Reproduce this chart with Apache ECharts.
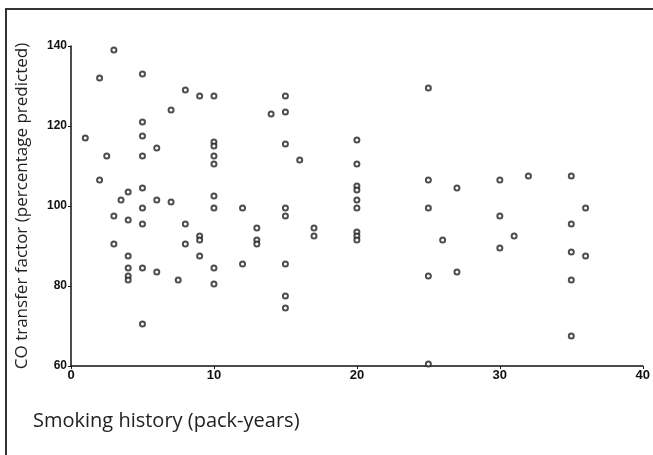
<!DOCTYPE html>
<html>
<head>
<meta charset="utf-8">
<script src="https://cdn.jsdelivr.net/npm/echarts@6/dist/echarts.min.js"></script>
<style>
  html, body { margin: 0; padding: 0; background: #fff; }
  #chart { width: 653px; height: 455px; }
</style>
</head>
<body>
<div id="chart"></div>
<script>
// pack-years of each subject and its CO transfer factor (% predicted)
var packYears = [
  1,
  2, 2,
  2.5,
  3, 3, 3,
  3.5,
  4, 4, 4, 4, 4, 4,
  5, 5, 5, 5, 5, 5, 5, 5, 5,
  6, 6, 6,
  7, 7,
  7.5,
  8, 8, 8,
  9, 9, 9, 9,
  10, 10, 10, 10, 10, 10, 10, 10, 10,
  12, 12,
  13, 13, 13,
  14,
  15, 15, 15, 15, 15, 15, 15, 15,
  16,
  17, 17,
  20, 20, 20, 20, 20, 20, 20, 20, 20,
  25, 25, 25, 25, 25,
  26,
  27, 27,
  30, 30, 30,
  31,
  32,
  35, 35, 35, 35, 35,
  36, 36
];
var coTransfer = [
  117,
  132, 106.5,
  112.5,
  139, 97.5, 90.5,
  101.5,
  103.5, 96.5, 87.5, 84.5, 82.5, 81.5,
  133, 121, 117.5, 112.5, 104.5, 99.5, 95.5, 84.5, 70.5,
  114.5, 101.5, 83.5,
  124, 101,
  81.5,
  129, 95.5, 90.5,
  127.5, 92.5, 91.5, 87.5,
  127.5, 116, 115, 112.5, 110.5, 102.5, 99.5, 84.5, 80.5,
  99.5, 85.5,
  94.5, 91.5, 90.5,
  123,
  127.5, 123.5, 115.5, 99.5, 97.5, 85.5, 77.5, 74.5,
  111.5,
  94.5, 92.5,
  116.5, 110.5, 105, 104, 101.5, 99.5, 93.5, 92.5, 91.5,
  129.5, 106.5, 99.5, 82.5, 60.5,
  91.5,
  104.5, 83.5,
  106.5, 97.5, 89.5,
  92.5,
  107.5,
  107.5, 95.5, 88.5, 81.5, 67.5,
  99.5, 87.5
];
var xTicks = [0, 10, 20, 30, 40];
var yTicks = [60, 80, 100, 120, 140];

var points = [];
for (var i = 0; i < packYears.length; i++) {
  points.push([packYears[i], coTransfer[i]]);
}

var chart = echarts.init(document.getElementById('chart'));
chart.setOption({
  animation: false,
  backgroundColor: '#fff',
  grid: { left: 71, top: 46, right: 5, bottom: 89 },
  xAxis: {
    type: 'value',
    min: xTicks[0],
    max: xTicks[xTicks.length - 1],
    interval: 10,
    splitLine: { show: false },
    axisLine: { show: true, lineStyle: { color: '#111', width: 1.5 } },
    axisTick: { show: true, length: 3, lineStyle: { color: '#111' } },
    axisLabel: { color: '#111', fontFamily: 'Liberation Sans', fontWeight: 'bold', fontSize: 13, margin: 3 }
  },
  yAxis: {
    type: 'value',
    min: yTicks[0],
    max: yTicks[yTicks.length - 1],
    interval: 20,
    name: 'CO transfer factor (percentage predicted)',
    nameLocation: 'middle',
    nameRotate: 90,
    nameGap: 40,
    nameTextStyle: { color: '#222', fontFamily: 'Open Sans', fontSize: 17 },
    splitLine: { show: false },
    axisLine: { show: true, lineStyle: { color: '#111', width: 1.5 } },
    axisTick: { show: true, length: 3, lineStyle: { color: '#111' } },
    axisLabel: { color: '#111', fontFamily: 'Liberation Sans', fontWeight: 'bold', fontSize: 12, margin: 4 }
  },
  graphic: [
    {
      type: 'rect',
      shape: { x: 6, y: 9, width: 700, height: 500 },
      style: { fill: 'none', stroke: '#333', lineWidth: 2 },
      silent: true
    },
    {
      type: 'text',
      left: 33,
      top: 411,
      style: { text: 'Smoking history (pack-years)', fill: '#222', font: '20px "Open Sans"' }
    }
  ],
  series: [{
    type: 'scatter',
    data: points,
    symbol: 'emptyCircle',
    symbolSize: 5,
    itemStyle: { color: '#222', borderColor: '#222', borderWidth: 1 }
  }]
});
</script>
</body>
</html>
